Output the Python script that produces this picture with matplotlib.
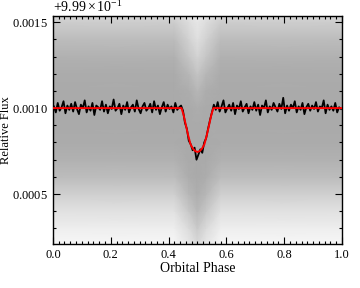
import numpy as np
import matplotlib.pyplot as plt
from matplotlib.colors import LinearSegmentedColormap
from matplotlib.ticker import MultipleLocator, ScalarFormatter

plt.rcParams['font.family'] = 'serif'
plt.rcParams['font.serif'] = ['Liberation Serif', 'DejaVu Serif']
plt.rcParams['mathtext.fontset'] = 'stix'
plt.rcParams['font.size'] = 10

OFFSET = 0.999

# binned light curve: flux above the offset, in ppm (150 equal phase bins)
bin_ppm = [
    1010, 975, 1030, 985, 1005, 1040, 970, 1015, 990, 1025,
    980, 1035, 995, 965, 1020, 1000, 1045, 975, 1010, 985,
    1030, 960, 1015, 1005, 990, 1040, 980, 1020, 970, 1010,
    995, 1050, 985, 1000, 1025, 965, 1015, 990, 1035, 975,
    1005, 1020, 980, 1045, 995, 970, 1010, 1030, 985, 1000,
    1025, 975, 1040, 990, 1015, 965, 1005, 1035, 980, 1020,
    995, 1010, 975, 1030, 990, 1005,
    1015, 985, 915, 880, 810, 790, 755, 770, 700, 730,
    760, 740, 800, 825, 880, 930, 975, 1020, 990,
    1035, 980, 1010, 1045, 975, 1000, 1020, 985, 1030, 965,
    1015, 995, 1040, 980, 1005, 1025, 970, 1010, 990, 1035,
    985, 1020, 960, 1015, 1000, 1045, 975, 1010, 990, 1030,
    1005, 980, 1025, 995, 1060, 970, 1015, 985, 1020, 1000,
    1040, 975, 1010, 990, 1030, 965, 1005, 1025, 985, 1015,
    995, 1035, 980, 1010, 1000, 1045, 970, 1020, 990, 1010,
    985, 1030, 975, 1005, 995,
]
bin_phase = np.linspace(0.5 / len(bin_ppm), 1 - 0.5 / len(bin_ppm), len(bin_ppm))

# transit model
model_phase = [0.0, 0.445, 0.452, 0.46, 0.468, 0.476, 0.484, 0.492, 0.5,
               0.508, 0.516, 0.524, 0.532, 0.54, 0.548, 0.555, 1.0]
model_ppm = [1000, 1000, 960, 900, 840, 790, 765, 750, 745,
             750, 765, 790, 840, 900, 960, 1000, 1000]

# unbinned points: fraction of the area covered by grey dots
cloud_phase = [0.0, 0.42, 0.47, 0.50, 0.53, 0.58, 1.0]
cloud_ppm = [210, 300, 400, 500, 600, 700, 800, 900, 1000, 1100, 1200, 1300, 1400, 1500, 1540]
cover_out = [0.10, 0.18, 0.32, 0.50, 0.70, 0.82, 0.88, 0.89, 0.89, 0.89, 0.88, 0.82, 0.70, 0.52, 0.45]
cover_mid = [0.25, 0.38, 0.58, 0.76, 0.86, 0.89, 0.89, 0.89, 0.89, 0.86, 0.75, 0.60, 0.48, 0.36, 0.32]
cover_center = [0.40, 0.56, 0.74, 0.85, 0.89, 0.89, 0.89, 0.89, 0.86, 0.76, 0.62, 0.46, 0.34, 0.26, 0.22]
coverage = np.array([cover_out, cover_out, cover_mid, cover_center,
                     cover_mid, cover_out, cover_out]).T

fig = plt.figure(figsize=(3.6, 2.88), dpi=100)
ax = fig.add_axes([0.147, 0.153, 0.803, 0.791])

cmap = LinearSegmentedColormap.from_list('dots', ['white', '#a0a0a0'])
ax.pcolormesh(cloud_phase, OFFSET + np.array(cloud_ppm) * 1e-6, coverage,
              shading='gouraud', cmap=cmap, vmin=0, vmax=1, zorder=1)

ax.plot(bin_phase, OFFSET + np.array(bin_ppm) * 1e-6, color='black', lw=1.3, zorder=2)
ax.plot(model_phase, OFFSET + np.array(model_ppm) * 1e-6, color='red', lw=1.4, zorder=3)

ax.set_xlim(0, 1)
ax.set_ylim(OFFSET + 0.00021, OFFSET + 0.001535)

fmt = ScalarFormatter(useMathText=True)
fmt.set_useOffset(OFFSET)
ax.yaxis.set_major_formatter(fmt)
ax.yaxis.get_offset_text().set_fontsize(10)
ax.xaxis.set_major_locator(MultipleLocator(0.2))
ax.xaxis.set_minor_locator(MultipleLocator(0.02))
ax.yaxis.set_major_locator(MultipleLocator(0.0005))
ax.yaxis.set_minor_locator(MultipleLocator(0.0001))
ax.tick_params(which='both', direction='in', top=True, right=True, width=0.8,
               labelsize=9)
ax.tick_params(which='major', length=5)
ax.tick_params(which='minor', length=2.5)
for s in ax.spines.values():
    s.set_linewidth(1.0)

ax.set_xlabel('Orbital Phase', labelpad=1)
ax.set_ylabel('Relative Flux', fontsize=9)
ax.yaxis.set_label_coords(-0.142, 0.5)

fig.savefig('out.png', dpi=100)
